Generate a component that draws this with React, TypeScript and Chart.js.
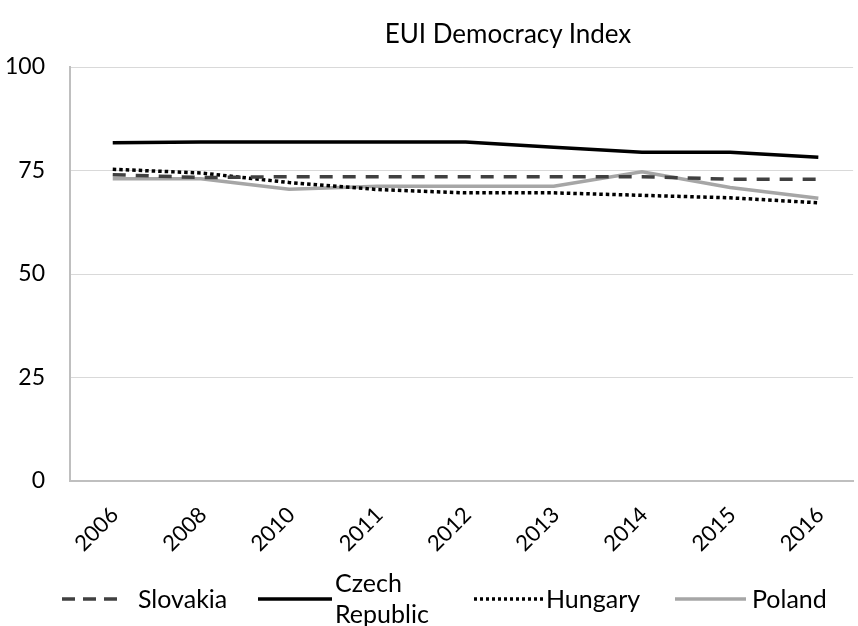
import React, { useEffect, useRef } from "react";
import { Chart, registerables } from "chart.js";

Chart.register(...registerables);

const years = ["2006", "2008", "2010", "2011", "2012", "2013", "2014", "2015", "2016"];
const slovakia = [74.0, 73.3, 73.5, 73.5, 73.5, 73.5, 73.5, 72.9, 72.9];
const czechRepublic = [81.7, 81.9, 81.9, 81.9, 81.9, 80.6, 79.4, 79.4, 78.2];
const hungary = [75.3, 74.4, 72.1, 70.4, 69.6, 69.6, 69.0, 68.4, 67.2];
const poland = [73.0, 73.0, 70.5, 71.2, 71.2, 71.2, 74.7, 70.9, 68.3];
const yTicks = [0, 25, 50, 75, 100];

const FONT = "Lato, 'Open Sans', sans-serif";

const seriesStyles = [
  { label: "Slovakia", data: slovakia, color: "#404040", dash: [13, 10], width: 3.5 },
  { label: "Czech Republic", data: czechRepublic, color: "#000000", dash: [], width: 3.5 },
  { label: "Hungary", data: hungary, color: "#000000", dash: [3.5, 3], width: 3.5 },
  { label: "Poland", data: poland, color: "#a6a6a6", dash: [], width: 3.5 },
];

const legendItems = [
  { lines: ["Slovakia"], color: "#404040", dash: "13 8", sampleLeft: 62, sampleWidth: 61, textLeft: 138 },
  { lines: ["Czech", "Republic"], color: "#000000", dash: "", sampleLeft: 258, sampleWidth: 74, textLeft: 335 },
  { lines: ["Hungary"], color: "#000000", dash: "3 3", sampleLeft: 474, sampleWidth: 69, textLeft: 546 },
  { lines: ["Poland"], color: "#a6a6a6", dash: "", sampleLeft: 675, sampleWidth: 71, textLeft: 752 },
];

export default function App() {
  const canvasRef = useRef<HTMLCanvasElement | null>(null);

  useEffect(() => {
    document.body.style.margin = "0";
    const canvas = canvasRef.current;
    if (!canvas) return;
    const chart = new Chart(canvas, {
      type: "line",
      data: {
        datasets: seriesStyles.map((s) => ({
          label: s.label,
          data: s.data.map((v, i) => ({ x: i, y: v })),
          borderColor: s.color,
          backgroundColor: s.color,
          borderWidth: s.width,
          borderDash: s.dash,
          borderCapStyle: "butt" as const,
          pointRadius: 0,
          tension: 0,
          fill: false,
        })),
      },
      options: {
        animation: false,
        responsive: false,
        maintainAspectRatio: false,
        layout: { padding: { top: 67, right: 0, bottom: 0, left: 0 } },
        plugins: {
          legend: { display: false },
          title: { display: false },
          tooltip: { enabled: false },
        },
        scales: {
          x: {
            type: "linear",
            min: -0.4845,
            max: 8.394,
            grid: { display: false, drawTicks: false },
            border: { display: true, color: "#bfbfbf", width: 2 },
            afterBuildTicks: (scale: any) => {
              scale.ticks = years.map((_, i) => ({ value: i }));
            },
            afterFit: (scale: any) => {
              scale.height = 145;
            },
            ticks: {
              autoSkip: false,
              maxRotation: 45,
              minRotation: 45,
              padding: 21,
              labelOffset: 2,
              color: "#000",
              font: { family: FONT, size: 22 },
              callback: (v: any) => years[Math.round(Number(v))] ?? "",
            },
          },
          y: {
            min: 0,
            max: 100,
            afterBuildTicks: (scale: any) => {
              scale.ticks = yTicks.map((v) => ({ value: v }));
            },
            afterFit: (scale: any) => {
              scale.width = 70;
            },
            grid: { color: "#d9d9d9", lineWidth: 1, drawTicks: false },
            border: { display: true, color: "#bfbfbf", width: 2 },
            ticks: {
              padding: 25,
              color: "#000",
              font: { family: FONT, size: 23 },
            },
          },
        },
      },
    });
    return () => chart.destroy();
  }, []);

  return (
    <div style={{ position: "relative", width: 858, height: 626, fontFamily: FONT, color: "#000" }}>
      <canvas ref={canvasRef} width={858} height={626} style={{ position: "absolute", left: 0, top: 0 }} />
      <div
        style={{
          position: "absolute",
          left: 358,
          width: 300,
          top: 17,
          textAlign: "center",
          fontSize: 26,
          whiteSpace: "nowrap",
          lineHeight: "32px",
        }}
      >
        EUI Democracy Index
      </div>
      {legendItems.map((item) => (
        <React.Fragment key={item.lines.join(" ")}>
          <svg
            style={{ position: "absolute", left: item.sampleLeft, top: 594 }}
            width={item.sampleWidth}
            height={10}
          >
            <line
              x1={0}
              y1={5}
              x2={item.sampleWidth}
              y2={5}
              stroke={item.color}
              strokeWidth={3.5}
              strokeDasharray={item.dash || undefined}
            />
          </svg>
          <div
            style={{
              position: "absolute",
              left: item.textLeft,
              top: item.lines.length > 1 ? 567 : 583,
              fontSize: 25,
              lineHeight: "31px",
              whiteSpace: "nowrap",
            }}
          >
            {item.lines.map((l) => (
              <div key={l}>{l}</div>
            ))}
          </div>
        </React.Fragment>
      ))}
    </div>
  );
}
